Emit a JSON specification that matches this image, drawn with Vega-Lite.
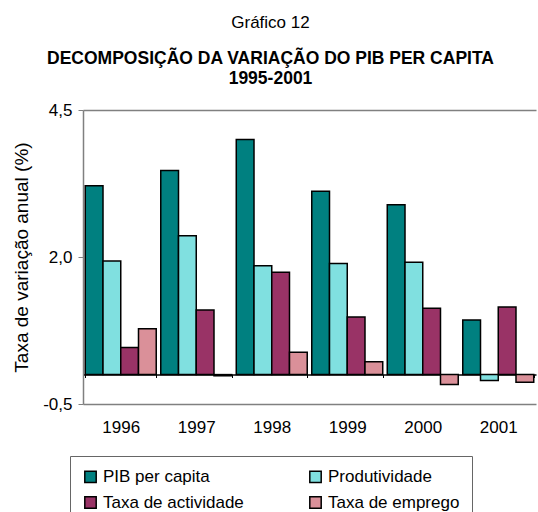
{
  "$schema": "https://vega.github.io/schema/vega-lite/v6.json",
  "width": 453,
  "height": 294,
  "autosize": {"type": "none"},
  "padding": {"left": 83, "top": 110, "right": 2, "bottom": 108},
  "config": {"font": "Liberation Sans", "view": {"stroke": null}},
  "title": {
    "text": "Gráfico 12",
    "subtitle": ["DECOMPOSIÇÃO DA VARIAÇÃO DO PIB PER CAPITA", "1995-2001"],
    "fontSize": 17,
    "fontWeight": "normal",
    "color": "black",
    "subtitleFontSize": 17.5,
    "subtitleFontWeight": "bold",
    "subtitleColor": "black",
    "subtitleLineHeight": 20,
    "subtitlePadding": 18,
    "anchor": "middle",
    "frame": "group",
    "dx": -39,
    "offset": 13
  },
  "data": {
    "values": [
      {"year": "1996", "series": "PIB per capita", "value": 3.21},
      {"year": "1996", "series": "Produtividade", "value": 1.93},
      {"year": "1996", "series": "Taxa de actividade", "value": 0.46},
      {"year": "1996", "series": "Taxa de emprego", "value": 0.78},
      {"year": "1997", "series": "PIB per capita", "value": 3.47},
      {"year": "1997", "series": "Produtividade", "value": 2.36},
      {"year": "1997", "series": "Taxa de actividade", "value": 1.10},
      {"year": "1997", "series": "Taxa de emprego", "value": -0.02},
      {"year": "1998", "series": "PIB per capita", "value": 4.0},
      {"year": "1998", "series": "Produtividade", "value": 1.85},
      {"year": "1998", "series": "Taxa de actividade", "value": 1.74},
      {"year": "1998", "series": "Taxa de emprego", "value": 0.38},
      {"year": "1999", "series": "PIB per capita", "value": 3.12},
      {"year": "1999", "series": "Produtividade", "value": 1.89},
      {"year": "1999", "series": "Taxa de actividade", "value": 0.98},
      {"year": "1999", "series": "Taxa de emprego", "value": 0.22},
      {"year": "2000", "series": "PIB per capita", "value": 2.89},
      {"year": "2000", "series": "Produtividade", "value": 1.91},
      {"year": "2000", "series": "Taxa de actividade", "value": 1.13},
      {"year": "2000", "series": "Taxa de emprego", "value": -0.17},
      {"year": "2001", "series": "PIB per capita", "value": 0.93},
      {"year": "2001", "series": "Produtividade", "value": -0.10},
      {"year": "2001", "series": "Taxa de actividade", "value": 1.15},
      {"year": "2001", "series": "Taxa de emprego", "value": -0.13}
    ]
  },
  "mark": {"type": "bar", "stroke": "black", "strokeWidth": 1.5},
  "encoding": {
    "x": {
      "field": "year",
      "type": "nominal",
      "scale": {"paddingInner": 0.06, "paddingOuter": 0.03},
      "axis": {
        "title": null,
        "labelAngle": 0,
        "offset": -29.5,
        "domainColor": "black",
        "domainWidth": 1.5,
        "tickColor": "black",
        "tickWidth": 1,
        "tickBand": "extent",
        "tickSize": 3,
        "labelPadding": 42,
        "labelFontSize": 17,
        "labelColor": "black"
      }
    },
    "xOffset": {
      "field": "series",
      "sort": ["PIB per capita", "Produtividade", "Taxa de actividade", "Taxa de emprego"],
      "scale": {"paddingInner": 0, "paddingOuter": 0}
    },
    "y": {
      "field": "value",
      "type": "quantitative",
      "stack": null,
      "scale": {"domain": [-0.5, 4.5], "nice": false},
      "axis": {
        "values": [-0.5, 2, 4.5],
        "labelExpr": "replace(replace(format(datum.value, '.1f'), '.', ','), '\u2212', '-')",
        "title": "Taxa de variação anual  (%)",
        "titleFontSize": 19,
        "titleFontWeight": "normal",
        "titleColor": "black",
        "titlePadding": 11,
        "labelFontSize": 17,
        "labelColor": "black",
        "labelPadding": 6,
        "grid": true,
        "gridColor": "#808080",
        "gridWidth": 1.5,
        "gridOpacity": {"condition": {"test": "datum.value === 2", "value": 0}, "value": 1},
        "domainColor": "#808080",
        "domainWidth": 1.5,
        "tickColor": "#808080",
        "tickSize": 5
      }
    },
    "color": {
      "field": "series",
      "type": "nominal",
      "sort": ["PIB per capita", "Produtividade", "Taxa de actividade", "Taxa de emprego"],
      "scale": {
        "domain": ["PIB per capita", "Produtividade", "Taxa de actividade", "Taxa de emprego"],
        "range": ["#008080", "#80E0E0", "#993366", "#DA9099"]
      },
      "legend": {
        "title": null,
        "orient": "none",
        "legendX": -13,
        "legendY": 346,
        "columns": 2,
        "direction": "horizontal",
        "symbolType": "square",
        "symbolSize": 130,
        "symbolStrokeColor": "black",
        "symbolStrokeWidth": 1.5,
        "labelFontSize": 17,
        "labelColor": "black",
        "labelOffset": 4,
        "labelLimit": 300,
        "strokeColor": "#666666",
        "padding": 12,
        "columnPadding": 62,
        "rowPadding": 7,
        "gridAlign": "all"
      }
    }
  }
}
